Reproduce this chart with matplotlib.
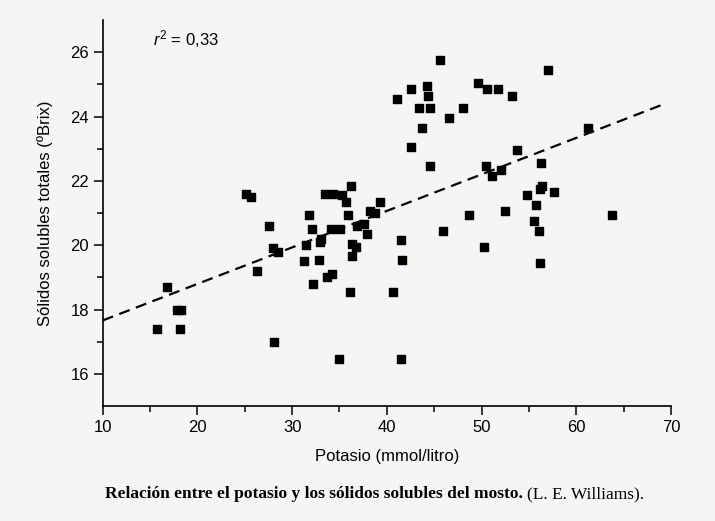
import matplotlib
matplotlib.use("Agg")
import matplotlib.pyplot as plt
from matplotlib.ticker import MultipleLocator

# potasio (mmol/litro) vs solidos solubles (ºBrix)
potasio = [15.7, 16.8, 17.8, 18.3, 18.2, 25.1, 25.7, 26.3, 27.6, 28.0,
           28.5, 28.1, 31.3, 31.5, 31.8, 32.1, 32.2, 32.8, 32.9, 33.1,
           33.5, 34.3, 33.7, 34.2, 34.1, 35.1, 35.3, 35.7, 35.0, 35.9,
           36.2, 36.1, 36.3, 36.7, 36.3, 36.9, 37.6, 37.9, 38.2, 38.8,
           39.3, 40.7, 41.1, 41.5, 41.6, 41.5, 42.5, 42.5, 43.4, 43.7,
           44.2, 44.3, 44.6, 44.6, 45.6, 45.9, 46.6, 48.0, 48.7, 49.6,
           50.3, 50.5, 50.6, 51.7, 51.1, 52.1, 52.5, 53.2, 53.7, 54.8,
           55.5, 55.7, 56.1, 56.2, 56.4, 56.3, 56.2, 57.0, 57.6, 61.2,
           63.8]
brix = [17.4, 18.7, 18.0, 18.0, 17.4, 21.6, 21.5, 19.2, 20.6, 19.9,
        19.8, 17.0, 19.5, 20.0, 20.95, 20.5, 18.8, 19.55, 20.1, 20.2,
        21.6, 21.6, 19.0, 19.1, 20.5, 20.5, 21.55, 21.35, 16.45, 20.95,
        21.85, 18.55, 20.05, 19.95, 19.65, 20.6, 20.65, 20.35, 21.05, 21.0,
        21.35, 18.55, 24.55, 20.15, 19.55, 16.45, 24.85, 23.05, 24.25, 23.65,
        24.95, 24.65, 24.25, 22.45, 25.75, 20.45, 23.95, 24.25, 20.95, 25.05,
        19.95, 22.45, 24.85, 24.85, 22.15, 22.35, 21.05, 24.65, 22.95, 21.55,
        20.75, 21.25, 20.45, 21.75, 21.85, 22.55, 19.45, 25.45, 21.65, 23.65,
        20.95]

# regression line ends
fit_x = [10, 69.2]
fit_y = [17.66, 24.38]
r2_text = "0,33"

plt.rcParams["font.family"] = ["Liberation Sans", "DejaVu Sans"]
plt.rcParams["mathtext.fontset"] = "custom"
plt.rcParams["mathtext.it"] = "Liberation Sans:italic"
plt.rcParams["mathtext.rm"] = "Liberation Sans"

bg = "#f5f5f3"
fig = plt.figure(figsize=(7.15, 5.21), dpi=100, facecolor=bg)
ax = fig.add_axes([0.1436, 0.2207, 0.7949, 0.7409], facecolor=bg)

ax.scatter(potasio, brix, marker="s", s=36, color="black", zorder=3)
ax.plot(fit_x, fit_y, color="black", lw=1.6, linestyle=(0, (5, 3)), zorder=2)

ax.set_xlim(10, 70)
ax.set_ylim(15, 27)
ax.xaxis.set_major_locator(MultipleLocator(10))
ax.xaxis.set_minor_locator(MultipleLocator(5))
ax.set_yticks([16, 18, 20, 22, 24, 26])
ax.set_yticks([17, 19, 21, 23, 25], minor=True)

for side in ["top", "right"]:
    ax.spines[side].set_visible(False)
for side in ["left", "bottom"]:
    ax.spines[side].set_linewidth(1.2)

ax.tick_params(which="major", direction="out", length=6.5, width=1.1, labelsize=12, pad=3.5)
ax.tick_params(which="minor", direction="out", length=4, width=1.1)

ax.set_xlabel("Potasio (mmol/litro)", fontsize=12, labelpad=10)
ax.set_ylabel("Sólidos solubles totales (ºBrix)", fontsize=12, labelpad=12)

ax.text(0.089, 0.951, "$r^{2}$ = " + r2_text, transform=ax.transAxes,
        fontsize=12, ha="left", va="center")

fig.text(0.7309, 0.052, "Relación entre el potasio y los sólidos solubles del mosto.",
         family="Liberation Serif", weight="bold", fontsize=12.5, ha="right", va="center")
fig.text(0.7366, 0.052, "(L. E. Williams).",
         family="Liberation Serif", fontsize=12.5, ha="left", va="center")

fig.savefig("out.png", dpi=100, facecolor=bg)
